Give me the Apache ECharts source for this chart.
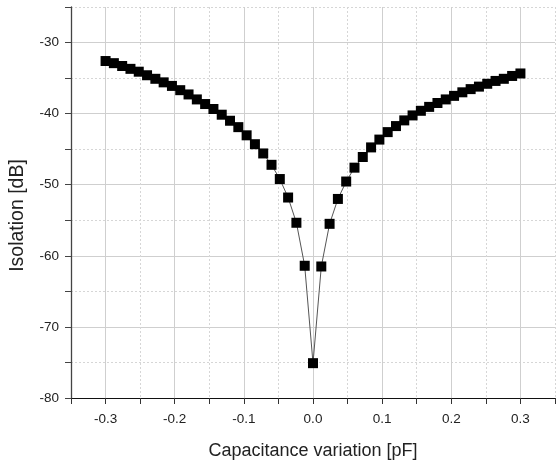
<!DOCTYPE html>
<html>
<head>
<meta charset="utf-8">
<script src="https://cdn.jsdelivr.net/npm/echarts@6/dist/echarts.min.js"></script>
<style>
html,body{margin:0;padding:0;background:#fff;}
#chart{width:558px;height:465px;}
</style>
</head>
<body>
<div id="chart"></div>
<script>
var capVariation = [
  -0.300, -0.288, -0.276, -0.264, -0.252, -0.240, -0.228, -0.216, -0.204, -0.192,
  -0.180, -0.168, -0.156, -0.144, -0.132, -0.120, -0.108, -0.096, -0.084, -0.072,
  -0.060, -0.048, -0.036, -0.024, -0.012, 0.000,
  0.012, 0.024, 0.036, 0.048, 0.060, 0.072, 0.084, 0.096, 0.108, 0.120,
  0.132, 0.144, 0.156, 0.168, 0.180, 0.192, 0.204, 0.216, 0.228, 0.240,
  0.252, 0.264, 0.276, 0.288, 0.300
];
var isolation = [
  -32.6, -32.9, -33.3, -33.7, -34.1, -34.6, -35.1, -35.6, -36.1, -36.7,
  -37.3, -38.0, -38.65, -39.35, -40.15, -41.0, -41.9, -43.05, -44.3, -45.6,
  -47.2, -49.2, -51.8, -55.35, -61.4, -75.1,
  -61.5, -55.5, -52.0, -49.55, -47.6, -46.1, -44.75, -43.65, -42.6, -41.75,
  -40.95, -40.25, -39.6, -39.05, -38.5, -38.0, -37.5, -37.0, -36.55, -36.2,
  -35.8, -35.4, -35.1, -34.7, -34.35
];
var xTitle = 'Capacitance variation [pF]';
var yTitle = 'Isolation [dB]';

var points = capVariation.map(function (x, i) { return [x, isolation[i]]; });
var font = 'Liberation Sans, Arial, sans-serif';
var clear = 'rgba(0,0,0,0)';

var chart = echarts.init(document.getElementById('chart'), null, {renderer: 'canvas'});
chart.setOption({
  animation: false,
  backgroundColor: '#ffffff',
  grid: {left: 68, right: 0, top: 7, bottom: 67, containLabel: false},
  xAxis: [{
    type: 'value', min: -0.35, max: 0.35, interval: 0.05,
    position: 'bottom',
    name: xTitle, nameLocation: 'middle', nameGap: 44,
    nameTextStyle: {fontFamily: font, fontSize: 18, color: '#222'},
    axisLine: {show: true, onZero: false, lineStyle: {color: '#111', width: 1}},
    axisTick: {show: true, inside: false, length: 6, lineStyle: {color: '#333'}},
    axisLabel: {
      fontFamily: font, fontSize: 13.5, color: '#222', margin: 14,
      formatter: function (v) {
        var r = Math.round(v * 100);
        return (r % 10 === 0) ? (r / 100).toFixed(1) : '';
      }
    },
    splitLine: {show: true, lineStyle: {color: [clear, '#cfcfcf'], width: 1, type: 'solid'}}
  }, {
    type: 'value', min: -0.35, max: 0.35, interval: 0.05,
    position: 'bottom',
    axisLine: {show: false}, axisTick: {show: false}, axisLabel: {show: false},
    splitLine: {show: true, lineStyle: {color: ['#d6d6d6', clear], width: 1, type: [2, 2]}}
  }],
  yAxis: [{
    type: 'value', min: -80, max: -25, interval: 5,
    position: 'left',
    name: yTitle, nameLocation: 'middle', nameGap: 43,
    nameTextStyle: {fontFamily: font, fontSize: 19.5, color: '#222', padding: [0, 26, 0, 0]},
    axisLine: {show: true, onZero: false, lineStyle: {color: '#444', width: 1.3}},
    axisTick: {show: true, inside: false, length: 6, lineStyle: {color: '#444'}},
    axisLabel: {
      fontFamily: font, fontSize: 13.5, color: '#222', margin: 12,
      formatter: function (v) { return (Math.round(v) % 10 === 0) ? String(Math.round(v)) : ''; }
    },
    splitLine: {show: true, lineStyle: {color: ['#cfcfcf', clear], width: 1, type: 'solid'}}
  }, {
    type: 'value', min: -80, max: -25, interval: 5,
    position: 'left',
    axisLine: {show: false}, axisTick: {show: false}, axisLabel: {show: false},
    splitLine: {show: true, lineStyle: {color: [clear, '#d6d6d6'], width: 1, type: [2, 2]}}
  }],
  series: [{
    type: 'line',
    xAxisIndex: 0, yAxisIndex: 0,
    data: points,
    symbol: 'rect', symbolSize: 10,
    showAllSymbol: true,
    itemStyle: {color: '#000'},
    lineStyle: {color: '#555', width: 1},
    z: 5
  }]
});
</script>
</body>
</html>
